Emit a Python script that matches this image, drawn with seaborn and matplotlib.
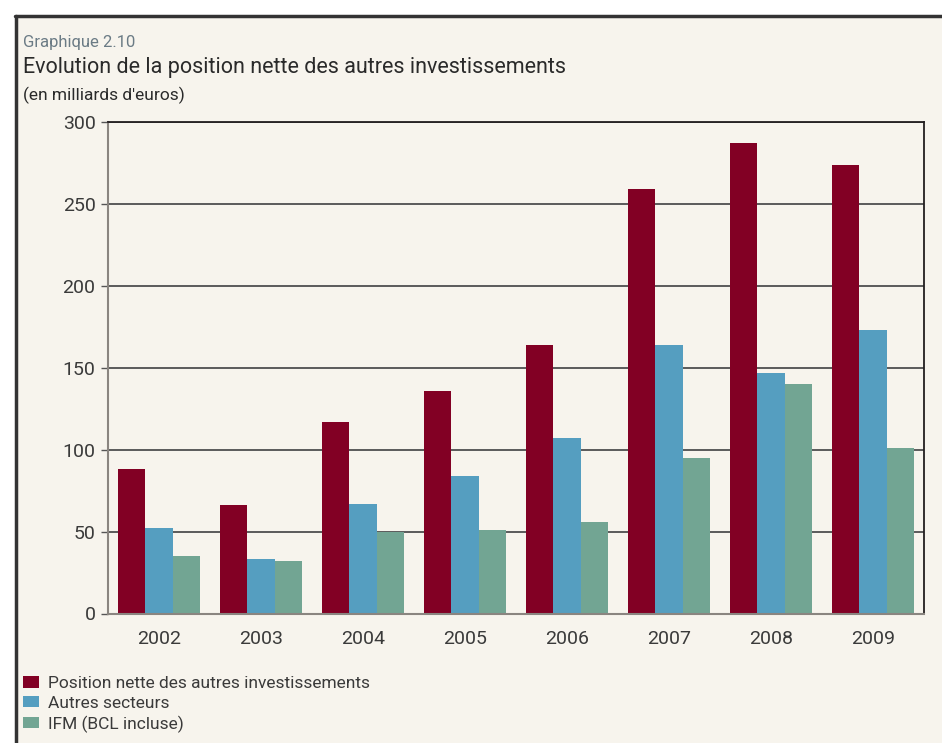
import pandas as pd
import matplotlib.pyplot as plt
import seaborn as sns
from matplotlib.patches import Rectangle
from matplotlib.lines import Line2D

years = ['2002', '2003', '2004', '2005', '2006', '2007', '2008', '2009']
position_nette = [88, 66, 117, 136, 164, 259, 287, 274]
autres_secteurs = [52, 33, 67, 84, 107, 164, 147, 173]
ifm = [35, 32, 50, 51, 56, 95, 140, 101]
series_names = ['Position nette des autres investissements', 'Autres secteurs', 'IFM (BCL incluse)']
colors = ['#820024', '#559EC0', '#72A593']

df = pd.DataFrame({
    'annee': years * 3,
    'valeur': position_nette + autres_secteurs + ifm,
    'serie': [series_names[0]] * 8 + [series_names[1]] * 8 + [series_names[2]] * 8,
})

sns.set_theme(style='white')
plt.rcParams['font.family'] = ['Roboto', 'DejaVu Sans']

bg = '#F7F4ED'
fig = plt.figure(figsize=(9.42, 7.43), dpi=100, facecolor='white')
# beige panel and black frame
fig.add_artist(Rectangle((15 / 942, 0), 1, 1 - 16 / 743, transform=fig.transFigure,
                         facecolor=bg, edgecolor='none', zorder=0))
fig.add_artist(Line2D([15 / 942, 1], [1 - 16 / 743] * 2, transform=fig.transFigure,
                      color='#333333', lw=2.5))
fig.add_artist(Line2D([16 / 942] * 2, [0, 1 - 16 / 743], transform=fig.transFigure,
                      color='#333333', lw=2.5))

ax = fig.add_axes([108 / 942, 1 - 613.5 / 743, (924 - 108) / 942, (613.5 - 122) / 743])
ax.set_facecolor(bg)

sns.barplot(data=df, x='annee', y='valeur', hue='serie', palette=colors,
            width=0.8, saturation=1, linewidth=0, ax=ax, legend=True)

ax.set_ylim(0, 300)
ax.set_xlim(-0.5, 7.5)
ax.set_yticks(range(0, 301, 50))
ax.set_axisbelow(True)
ax.yaxis.grid(True, color='#5a5a5a', lw=1.4)
ax.set_xlabel('')
ax.set_ylabel('')

ax.set_xticks([i + 0.5 for i in range(-1, 8)], minor=True)
ax.tick_params(axis='x', which='major', length=0, labelsize=14, colors='#3a3a3a', pad=12)
ax.tick_params(axis='x', which='minor', length=5, width=1, color='#555555', direction='out')
ax.tick_params(axis='y', length=5, width=1, color='#555555', labelsize=14,
               labelcolor='#3a3a3a', pad=4, left=True)

for side in ['top', 'right']:
    ax.spines[side].set_color('#231f20')
    ax.spines[side].set_linewidth(1.3)
ax.spines['left'].set_color('#8a8580')
ax.spines['left'].set_linewidth(1.5)
ax.spines['bottom'].set_color('#8a8580')
ax.spines['bottom'].set_linewidth(1.5)

handles, labels = ax.get_legend_handles_labels()
ax.get_legend().remove()
fig.legend(handles, labels, loc='upper left', bbox_to_anchor=(23 / 942, 1 - 676 / 743),
           frameon=False, fontsize=12.5, handlelength=0.9, handleheight=0.65,
           handletextpad=0.55, labelspacing=0.27, borderaxespad=0, borderpad=0,
           labelcolor='#3a3a3a')

fig.text(23 / 942, 1 - 42 / 743, 'Graphique 2.10', fontsize=12, color='#6B7B85', va='center')
fig.text(23 / 942, 1 - 68 / 743, 'Evolution de la position nette des autres investissements',
         fontsize=15.5, color='#2a2a2a', va='center')
fig.text(23 / 942, 1 - 95 / 743, "(en milliards d'euros)", fontsize=12.5, color='#2a2a2a',
         va='center')

fig.savefig('out.png', dpi=100, facecolor='white')
